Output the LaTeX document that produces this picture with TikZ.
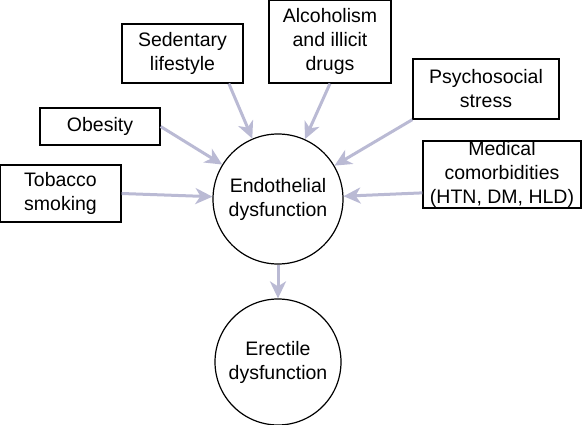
\documentclass[tikz,border=0pt]{standalone}
\usepackage{fontspec}
\setmainfont{Liberation Sans}
\usetikzlibrary{arrows.meta}

\definecolor{linkgray}{RGB}{186,186,212}

\tikzset{
  risk/.style={draw, line width=1.2pt, rectangle, align=center, inner sep=0pt},
  outcome/.style={draw, line width=1.2pt, circle, align=center, minimum size=130pt, inner sep=0pt},
  link/.style={draw=linkgray, line width=3pt,
    -{Stealth[length=17pt, width=16pt, inset=5pt, fill=linkgray]}}
}

\begin{document}
\begin{tikzpicture}[x=1pt, y=-1pt, font=\fontsize{19.5}{24}\selectfont]
  \useasboundingbox (0,0) rectangle (582,425);

  \node[outcome] (endo) at (278,199) {Endothelial\\dysfunction};
  \node[outcome, minimum size=126pt] (erectile) at (278,362) {Erectile\\dysfunction};

  \node[risk, minimum width=121pt, minimum height=57pt] (tobacco) at (60.5,193.5) {Tobacco\\smoking};
  \node[risk, minimum width=120pt, minimum height=37pt] (obesity) at (100,126.5) {Obesity};
  \node[risk, minimum width=121pt, minimum height=59pt] (sedentary) at (182.5,53.5) {Sedentary\\lifestyle};
  \node[risk, minimum width=122pt, minimum height=83pt] (alcohol) at (330,41.5) {Alcoholism\\and illicit\\drugs};
  \node[risk, minimum width=146pt, minimum height=60pt] (stress) at (486,89) {Psychosocial\\stress};
  \node[risk, minimum width=158pt, minimum height=67pt] (medical) at (502,174.5) {Medical\\comorbidities\\(HTN, DM, HLD)};

  % risk factors into the endothelium
  \draw[link] (tobacco.east) -- (endo);
  \draw[link] (obesity.east) -- (endo);
  \draw[link] (sedentary.-33) -- (endo);
  \draw[link] (alcohol.south) -- (endo);
  \draw[link] (stress.south west) -- (endo);
  \draw[link] (medical.193) -- (endo);
  \draw[link] (endo) -- (erectile);
\end{tikzpicture}
\end{document}
